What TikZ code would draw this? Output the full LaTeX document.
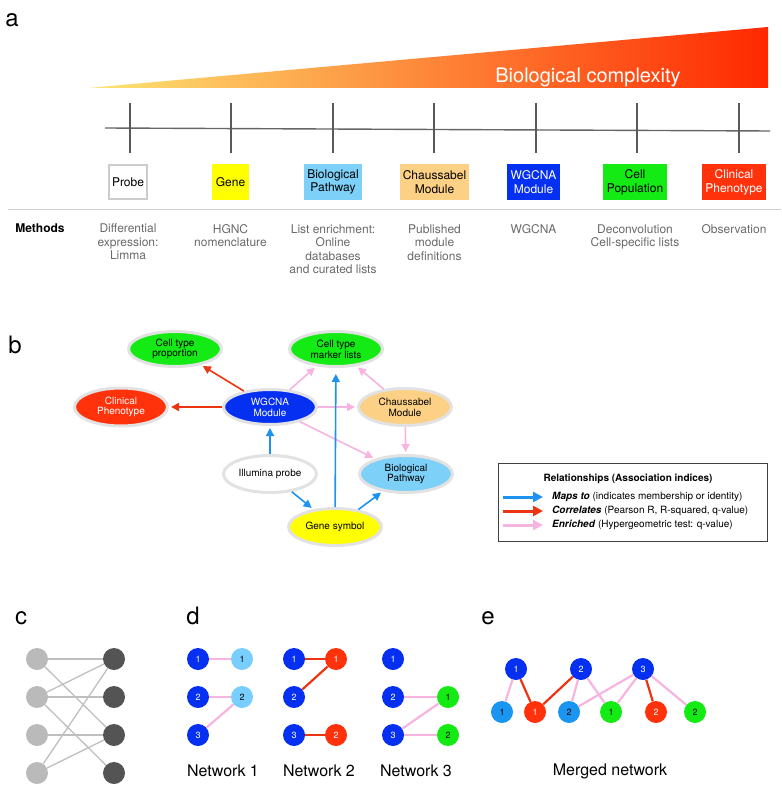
\documentclass[tikz,border=0pt]{standalone}
\usepackage{fontspec}
\setmainfont{TeX Gyre Heros}
\usetikzlibrary{shapes,arrows.meta,positioning}

% colours of the levels
\definecolor{gradyellow}{RGB}{252,230,115}
\definecolor{gradorange}{RGB}{252,178,92}
\definecolor{gradred}{RGB}{255,40,0}
\definecolor{genecol}{RGB}{255,255,0}
\definecolor{pathcol}{RGB}{125,208,247}
\definecolor{chausscol}{RGB}{252,209,133}
\definecolor{wgcnacol}{RGB}{5,48,242}
\definecolor{cellcol}{RGB}{20,235,20}
\definecolor{cliniccol}{RGB}{255,50,12}
\definecolor{methodgray}{RGB}{105,105,105}
\definecolor{ringgray}{RGB}{226,226,226}
% colours of the connectors
\definecolor{mapblue}{RGB}{30,146,240}
\definecolor{correlred}{RGB}{236,52,18}
\definecolor{enrichpink}{RGB}{247,180,224}
\definecolor{lightnode}{RGB}{120,206,255}
\definecolor{mergedlight}{RGB}{26,150,240}

\begin{document}
\begin{tikzpicture}[
    x=1pt, y=-1pt,
    panel/.style={font=\fontsize{24}{24}\selectfont, anchor=base, inner sep=0pt},
    levelbox/.style={
        rectangle,
        minimum height=36pt,
        inner xsep=1pt,
        align=center,
        font=\fontsize{12}{13.7}\selectfont
    },
    method/.style={
        align=center,
        inner sep=0pt,
        text=methodgray,
        font=\fontsize{12}{13.5}\selectfont
    },
    entity/.style={
        ellipse,
        draw=ringgray,
        line width=3pt,
        minimum width=93pt,
        minimum height=35pt,
        inner sep=0pt,
        align=center,
        font=\fontsize{10}{10.7}\selectfont
    },
    mapsto/.style={-{Triangle[length=8pt,width=8pt]}, draw=mapblue, line width=1.6pt},
    correl/.style={-{Triangle[length=8pt,width=8pt]}, draw=correlred, line width=1.6pt},
    enrich/.style={-{Triangle[length=8pt,width=8pt]}, draw=enrichpink, line width=1.6pt},
    keyarrow/.style={line width=3pt, -{Triangle[length=10pt,width=10pt]}},
    keytext/.style={anchor=west, inner xsep=9pt, inner ysep=1pt, font=\fontsize{10}{10}\selectfont},
    net/.style={circle, minimum size=22pt, inner sep=0pt, text=white, font=\fontsize{9}{9}\selectfont},
    bip/.style={circle, minimum size=22pt, inner sep=0pt},
    pinkedge/.style={enrichpink, line width=2.2pt},
    rededge/.style={correlred, line width=2.2pt},
    netlabel/.style={font=\fontsize{16}{16}\selectfont},
    node distance=38pt,
    on grid
]
    \useasboundingbox (0,0) rectangle (781,802);

    % ---------------- panel a ----------------
    \node[panel] (labela) at (12,27) {a};

    % gradient of biological complexity
    \shade[left color=gradyellow, middle color=gradorange, right color=gradred]
        (88,88) -- (768,27) -- (768,88) -- cycle;
    \node[anchor=base, text=white, inner sep=0pt, font=\fontsize{20}{20}\selectfont]
        (complexity) at (588,83) {Biological complexity};

    % axis with the seven ticks
    \draw[gray!120, line width=1.4pt] (105,128) -- (770,131);
    \draw[gray!130, line width=1.2pt]
        (130,103) -- (130,153)  (231,103) -- (231,153)  (333,103) -- (333,153)
        (434,103) -- (434,153)  (536,103) -- (536,153)  (637,103) -- (637,153)
        (739,103) -- (739,153);

    % the levels
    \node[levelbox, draw=black!20, line width=1.5pt, fill=white, minimum width=38pt, minimum height=34pt] (probe) at (128,182) {Probe};
    \node[levelbox, fill=genecol, minimum width=37pt] (gene) at (230.5,182) {Gene};
    \node[levelbox, fill=pathcol, minimum width=58pt] (pathway) at (333,182) {Biological\\Pathway};
    \node[levelbox, fill=chausscol, minimum width=69pt] (chaussabel) at (434.5,182) {Chaussabel\\Module};
    \node[levelbox, fill=wgcnacol, text=white, minimum width=53pt] (wgcna) at (533.5,182) {WGCNA\\Module};
    \node[levelbox, fill=cellcol, minimum width=64pt] (cellpop) at (635,182) {Cell\\Population};
    \node[levelbox, fill=cliniccol, text=white, minimum width=64pt] (clinical) at (734,182) {Clinical\\Phenotype};

    \draw[black!18, line width=1pt] (8,210) -- (781,210);

    % methods under each level
    \node[anchor=north, inner sep=0pt, font=\bfseries\fontsize{12}{13.5}\selectfont] (methods) at (40,224) {Methods};
    \node[method, below=24pt of probe.south, anchor=north] (mprobe) {Differential\\expression:\\Limma};
    \node[method, below=24pt of gene.south, anchor=north] (mgene) {HGNC\\nomenclature};
    \node[method, below=24pt of pathway.south, anchor=north] (mpathway) {List enrichment:\\Online\\databases\\and curated lists};
    \node[method, below=24pt of chaussabel.south, anchor=north] (mchaussabel) {Published\\module\\definitions};
    \node[method, below=24pt of wgcna.south, anchor=north] (mwgcna) {WGCNA};
    \node[method, below=24pt of cellpop.south, anchor=north] (mcellpop) {Deconvolution\\Cell-specific lists};
    \node[method, below=24pt of clinical.south, anchor=north] (mclinical) {Observation};

    % ---------------- panel b ----------------
    \node[panel] (labelb) at (15,353) {b};

    \node[entity, fill=cellcol] (proportion) at (175,349) {Cell type\\proportion};
    \node[entity, fill=cellcol] (markers) at (336,349) {Cell type\\marker lists};
    \node[entity, fill=cliniccol, text=white, minimum height=38pt] (phenotype) at (121,407) {Clinical\\Phenotype};
    \node[entity, fill=wgcnacol, text=white] (module) at (270,407) {WGCNA\\Module};
    \node[entity, fill=chausscol, minimum height=37pt] (chmodule) at (405,407) {Chaussabel\\Module};
    \node[entity, fill=white, minimum height=37pt] (illumina) at (270,474) {Illumina probe};
    \node[entity, fill=pathcol, minimum height=37pt] (biopath) at (406,474) {Biological\\Pathway};
    \node[entity, fill=genecol, minimum height=37pt] (symbol) at (335,527) {Gene symbol};

    % correlations
    \draw[correl, shorten >=2pt] (module) -- (proportion);
    \draw[correl, shorten >=2pt] (module) -- (phenotype);
    % enrichments
    \draw[enrich, shorten >=2pt] (module) -- (markers);
    \draw[enrich, shorten >=2pt] (module) -- (chmodule);
    \draw[enrich, shorten >=2pt] (module) -- (biopath);
    \draw[enrich, shorten >=2pt] (chmodule) -- (markers);
    \draw[enrich, shorten >=2pt] (chmodule) -- (biopath);
    % mappings
    \draw[mapsto, shorten >=2pt] (illumina) -- (module);
    \draw[mapsto, shorten >=2pt] (illumina) -- (symbol);
    \draw[mapsto, shorten >=6pt] (symbol) -- (markers);
    \draw[mapsto, shorten >=2pt] (symbol) -- (biopath);

    % legend
    \draw[black!75, line width=0.8pt] (498,463) rectangle (767,541);
    \node[font=\bfseries\fontsize{10}{10}\selectfont] (keytitle) at (628,479) {Relationships (Association indices)};
    \coordinate (keymaps) at (503,497);
    \coordinate (keycorrel) at (503,511);
    \coordinate (keyenrich) at (503,525);
    \node[keytext] (mapstext) at (543,497) {\textbf{\textit{Maps to}} (indicates membership or identity)};
    \node[keytext] (correltext) at (543,511) {\textbf{\textit{Correlates}} (Pearson R, R-squared, q-value)};
    \node[keytext] (enrichtext) at (543,525) {\textbf{\textit{Enriched}} (Hypergeometric test: q-value)};
    \draw[keyarrow, mapblue] (keymaps) -- (mapstext.west);
    \draw[keyarrow, correlred] (keycorrel) -- (correltext.west);
    \draw[keyarrow, enrichpink] (keyenrich) -- (enrichtext.west);

    % ---------------- panel c ----------------
    \node[panel] (labelc) at (21,624) {c};

    \node[bip, fill=black!27] (l1) at (37,659) {};
    \node[bip, fill=black!27, below=of l1] (l2) {};
    \node[bip, fill=black!27, below=of l2] (l3) {};
    \node[bip, fill=black!27, below=of l3] (l4) {};
    \node[bip, fill=black!67] (r1) at (114,659) {};
    \node[bip, fill=black!67, below=of r1] (r2) {};
    \node[bip, fill=black!67, below=of r2] (r3) {};
    \node[bip, fill=black!67, below=of r3] (r4) {};

    \begin{scope}[black!25, line width=1.3pt]
        \draw (l1) -- (r1);  \draw (l1) -- (r3);
        \draw (l2) -- (r1);  \draw (l2) -- (r2);  \draw (l2) -- (r4);
        \draw (l3) -- (r3);
        \draw (l4) -- (r1);  \draw (l4) -- (r3);
    \end{scope}

    % ---------------- panel d ----------------
    \node[panel] (labeld) at (193,624) {d};

    % network 1
    \node[net, fill=wgcnacol] (aone) at (198,659) {1};
    \node[net, fill=wgcnacol, below=of aone] (atwo) {2};
    \node[net, fill=wgcnacol, below=of atwo] (athree) {3};
    \node[net, fill=lightnode, text=black, right=44pt of aone] (apone) {1};
    \node[net, fill=lightnode, text=black, right=44pt of atwo] (aptwo) {2};
    \draw[pinkedge] (aone) -- (apone);
    \draw[pinkedge] (atwo) -- (aptwo);
    \draw[pinkedge] (athree) -- (aptwo);
    \node[netlabel] (netone) at (223,771) {Network 1};

    % network 2
    \node[net, fill=wgcnacol] (bone) at (294,659) {1};
    \node[net, fill=wgcnacol, below=of bone] (btwo) {2};
    \node[net, fill=wgcnacol, below=of btwo] (bthree) {3};
    \node[net, fill=cliniccol, right=42pt of bone] (brone) {1};
    \node[net, fill=cliniccol, right=42pt of bthree] (brtwo) {2};
    \draw[rededge] (bone) -- (brone);
    \draw[rededge] (btwo) -- (brone);
    \draw[rededge] (bthree) -- (brtwo);
    \node[netlabel] (nettwo) at (319,771) {Network 2};

    % network 3
    \node[net, fill=wgcnacol] (cone) at (393,659) {1};
    \node[net, fill=wgcnacol, below=of cone] (ctwo) {2};
    \node[net, fill=wgcnacol, below=of ctwo] (cthree) {3};
    \node[net, fill=cellcol, text=black, right=55pt of ctwo] (cgone) {1};
    \node[net, fill=cellcol, text=black, right=55pt of cthree] (cgtwo) {2};
    \draw[pinkedge] (ctwo) -- (cgone);
    \draw[pinkedge] (cthree) -- (cgone);
    \draw[pinkedge] (cthree) -- (cgtwo);
    \node[netlabel] (netthree) at (416,771) {Network 3};

    % ---------------- panel e ----------------
    \node[panel] (labele) at (488,624) {e};

    \node[net, fill=wgcnacol] (mone) at (516,669) {1};
    \node[net, fill=wgcnacol] (mtwo) at (581,669) {2};
    \node[net, fill=wgcnacol] (mthree) at (643,669) {3};
    \node[net, fill=mergedlight, text=black] (mlone) at (502,712) {1};
    \node[net, fill=cliniccol] (mrone) at (535,712) {1};
    \node[net, fill=mergedlight, text=black] (mltwo) at (569,712) {2};
    \node[net, fill=cellcol, text=black] (mgone) at (611,712) {1};
    \node[net, fill=cliniccol] (mrtwo) at (656,712) {2};
    \node[net, fill=cellcol, text=black] (mgtwo) at (695,712) {2};

    \draw[pinkedge] (mone) -- (mlone);
    \draw[pinkedge] (mtwo) -- (mltwo);
    \draw[pinkedge] (mtwo) -- (mgone);
    \draw[pinkedge] (mthree) -- (mltwo);
    \draw[pinkedge] (mthree) -- (mgone);
    \draw[pinkedge] (mthree) -- (mgtwo);
    \draw[rededge] (mone) -- (mrone);
    \draw[rededge] (mtwo) -- (mrone);
    \draw[rededge] (mthree) -- (mrtwo);

    \node[netlabel] (merged) at (610,771) {Merged network};
\end{tikzpicture}
\end{document}
